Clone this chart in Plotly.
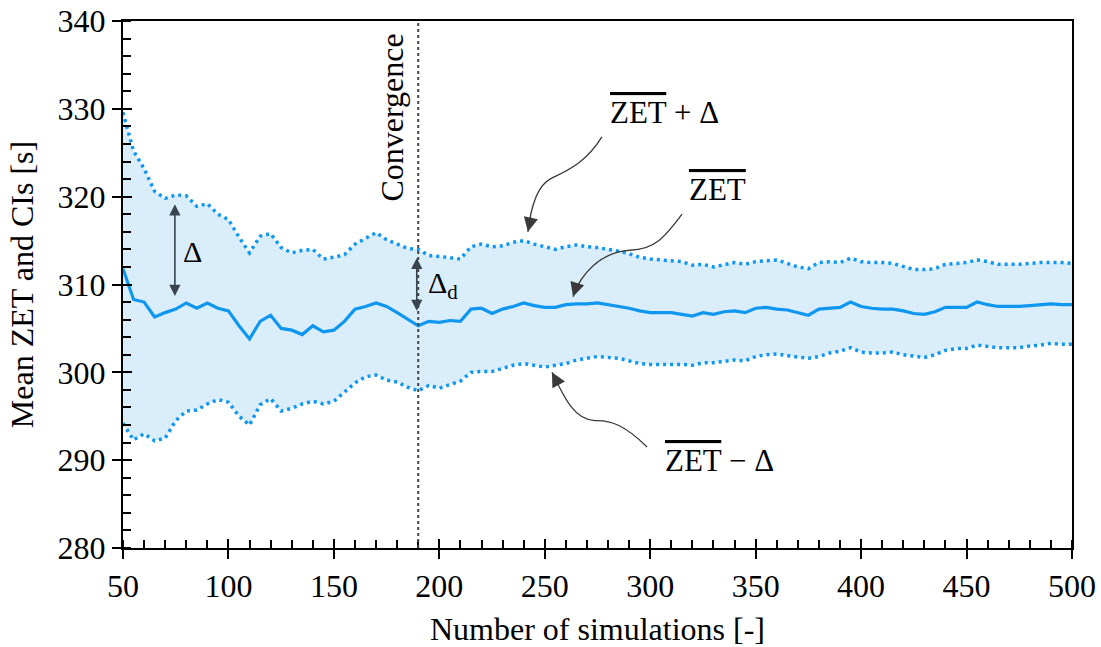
import plotly.graph_objects as go

n_sim = list(range(50, 505, 5))
mean_zet = [311.8, 308.3, 308.0, 306.3, 306.8, 307.2, 307.9, 307.3, 307.9, 307.3,
            307.0, 305.3, 303.8, 305.8, 306.5, 305.0, 304.8, 304.3, 305.3, 304.6,
            304.8, 305.8, 307.2, 307.5, 307.9, 307.5, 306.8, 306.0, 305.3, 305.8,
            305.7, 305.9, 305.8, 307.2, 307.3, 306.7, 307.2, 307.5, 307.9, 307.6,
            307.4, 307.4, 307.7, 307.8, 307.8, 307.9, 307.7, 307.5, 307.3, 307.0,
            306.8, 306.8, 306.8, 306.6, 306.4, 306.8, 306.6, 306.9, 307.0, 306.8,
            307.3, 307.4, 307.2, 307.1, 306.8, 306.5, 307.2, 307.3, 307.4, 308.0,
            307.5, 307.3, 307.2, 307.2, 307.0, 306.7, 306.6, 306.9, 307.4, 307.4,
            307.4, 308.0, 307.7, 307.5, 307.5, 307.5, 307.6, 307.7, 307.8, 307.7,
            307.7]
upper_ci = [329.6, 325.2, 323.2, 320.6, 319.8, 320.2, 320.1, 318.9, 319.2, 318.0,
            317.4, 315.4, 313.6, 315.5, 315.8, 314.2, 313.6, 313.9, 314.0, 312.9,
            313.1, 313.4, 314.6, 315.3, 315.9, 315.1, 314.6, 314.1, 314.0, 313.3,
            313.2, 313.0, 312.9, 314.3, 314.6, 314.3, 314.4, 314.8, 315.0, 314.6,
            314.3, 314.0, 314.3, 314.5, 314.3, 314.2, 314.0, 313.8, 313.5, 313.1,
            312.9, 312.8, 312.7, 312.6, 312.2, 312.3, 312.0, 312.3, 312.5, 312.3,
            312.6, 312.7, 312.8, 312.4, 312.0, 311.8, 312.5, 312.6, 312.5, 313.0,
            312.6, 312.5, 312.5, 312.4, 312.1, 311.7, 311.7, 311.8, 312.3, 312.4,
            312.5, 312.8, 312.6, 312.3, 312.3, 312.3, 312.4, 312.5, 312.5, 312.5,
            312.4]
lower_ci = [294.2, 292.3, 293.0, 292.2, 292.5, 294.5, 295.6, 295.7, 296.4, 296.9,
            296.6, 295.0, 294.0, 296.3, 297.0, 295.6, 295.9, 296.4, 296.7, 296.4,
            296.7, 297.7, 298.8, 299.5, 299.7, 299.1, 298.9, 298.3, 297.9, 298.5,
            298.2, 298.6, 299.0, 300.0, 300.1, 300.1, 300.5, 300.8, 301.0, 300.8,
            300.6, 300.8, 301.0, 301.4, 301.6, 301.8, 301.7, 301.6, 301.3, 301.0,
            300.9, 300.9, 300.9, 300.9, 300.8, 301.1, 301.1, 301.3, 301.4, 301.3,
            301.8, 302.0, 302.1, 301.9, 301.7, 301.6, 301.8, 302.2, 302.4, 302.8,
            302.3, 302.2, 302.2, 302.3, 302.0, 301.8, 301.7, 302.0, 302.5, 302.7,
            302.7, 303.1, 302.9, 302.8, 302.8, 302.8, 303.0, 303.1, 303.3, 303.2,
            303.2]

x_ticks = list(range(50, 550, 50))
y_ticks = list(range(280, 350, 10))
convergence_n = 190

BLUE = "#0f96ef"
FILL = "#daedfb"
DARK = "#37444e"
SERIF = "Liberation Serif"
FS = 32

fig = go.Figure()
fig.add_trace(go.Scatter(x=n_sim, y=lower_ci, mode="lines", line=dict(width=0),
                         hoverinfo="skip", showlegend=False))
fig.add_trace(go.Scatter(x=n_sim, y=upper_ci, mode="lines", line=dict(width=0),
                         fill="tonexty", fillcolor=FILL, hoverinfo="skip", showlegend=False))
fig.add_trace(go.Scatter(x=n_sim, y=upper_ci, mode="lines",
                         line=dict(color=BLUE, width=3.5, dash="3px,4px"), showlegend=False))
fig.add_trace(go.Scatter(x=n_sim, y=lower_ci, mode="lines",
                         line=dict(color=BLUE, width=3.5, dash="3px,4px"), showlegend=False))
fig.add_trace(go.Scatter(x=n_sim, y=mean_zet, mode="lines",
                         line=dict(color=BLUE, width=3.2), showlegend=False))

# convergence line
fig.add_shape(type="line", xref="x", yref="paper", x0=convergence_n, x1=convergence_n,
              y0=0, y1=1, line=dict(color="#444444", width=2, dash="dot"))

# curved leader lines
curve_paths = [
    "M 277.1,326.8 C 269.1,323.7 259.6,322.9 252.5,322.0 C 245.4,321.1 243.0,318.0 242.0,316.0",
    "M 315.1,318.0 C 307.0,315.4 302.3,314.0 290.4,313.9 C 276.2,313.7 266.7,311.1 263.4,308.6",
    "M 298.5,291.5 C 288.0,294.0 280.9,294.6 273.8,294.5 C 264.3,294.6 259.6,296.9 253.4,300.0",
]
for p in curve_paths:
    fig.add_shape(type="path", xref="x", yref="y", path=p,
                  line=dict(color="#3a3a3a", width=1.3))

arrow_tips = [((243.6, 317.8), (242.0, 316.0)),
              ((265.6, 310.3), (263.4, 308.6)),
              ((256.3, 298.7), (253.4, 300.0))]
for (tx, ty), (hx, hy) in arrow_tips:
    fig.add_annotation(x=hx, y=hy, ax=tx, ay=ty, xref="x", yref="y", axref="x", ayref="y",
                       text="", showarrow=True, arrowhead=2, arrowsize=2.2, arrowwidth=1.3,
                       arrowcolor="#3a3a3a")

# delta double arrows
for xa, y0, y1 in [(74.6, 308.7, 319.3), (189.3, 307.0, 313.2)]:
    fig.add_annotation(x=xa, y=y0, ax=xa, ay=y1, xref="x", yref="y", axref="x", ayref="y",
                       text="", showarrow=True, arrowhead=2, startarrowhead=2,
                       arrowside="end+start", arrowsize=1.4, startarrowsize=1.4,
                       arrowwidth=1.6, arrowcolor=DARK)

OL = '<span style="text-decoration:overline">ZET</span>'
texts = [
    dict(x=77.5, y=313.8, text="Δ", xanchor="left", size=30),
    dict(x=193.5, y=310.0, text="Δ<sub>d</sub>", xanchor="left", size=30),
    dict(x=307, y=329.6, text=OL + " + Δ", xanchor="center", size=31),
    dict(x=332, y=320.8, text=OL, xanchor="center", size=31),
    dict(x=333, y=290.0, text=OL + " − Δ", xanchor="center", size=31),
]
for t in texts:
    fig.add_annotation(x=t["x"], y=t["y"], xref="x", yref="y", text=t["text"],
                       showarrow=False, xanchor=t["xanchor"], yanchor="middle",
                       font=dict(family=SERIF, size=t["size"], color="black"))

fig.add_annotation(x=177.5, y=329.0, xref="x", yref="y", text="Convergence", textangle=-90,
                   showarrow=False, font=dict(family=SERIF, size=FS, color="black"))

axis_common = dict(showgrid=False, zeroline=False, showline=True, linecolor="black",
                   linewidth=2, mirror=True, ticks="outside", ticklen=9, tickwidth=1.5,
                   tickcolor="black", automargin=False,
                   tickfont=dict(family=SERIF, size=FS, color="black"))

fig.update_layout(
    width=1101, height=647,
    margin=dict(l=123, r=29, t=21, b=99),
    paper_bgcolor="white", plot_bgcolor="white",
    xaxis=dict(range=[50, 500], tickvals=x_ticks,
               minor=dict(dtick=10, tick0=50, ticks="inside", ticklen=8, tickwidth=1.5,
                          tickcolor="black"),
               title=dict(text="Number of simulations [-]", standoff=16,
                          font=dict(family=SERIF, size=FS, color="black")),
               **axis_common),
    yaxis=dict(range=[280, 340], tickvals=y_ticks,
               minor=dict(dtick=2, tick0=280, ticks="inside", ticklen=8, tickwidth=1.5,
                          tickcolor="black"),
               title=dict(text="Mean ZET and CIs [s]", standoff=14,
                          font=dict(family=SERIF, size=FS, color="black")),
               **axis_common),
    xaxis2=dict(overlaying="x", matches="x", range=[50, 500], tickvals=x_ticks,
                showticklabels=False, ticks="inside", ticklen=9, tickwidth=1.5,
                tickcolor="black", showgrid=False, zeroline=False, showline=False,
                automargin=False),
    yaxis2=dict(overlaying="y", matches="y", range=[280, 340], tickvals=y_ticks,
                showticklabels=False, ticks="inside", ticklen=9, tickwidth=1.5,
                tickcolor="black", showgrid=False, zeroline=False, showline=False,
                automargin=False),
)
fig.add_trace(go.Scatter(x=[None], y=[None], xaxis="x2", yaxis="y2", showlegend=False,
                         hoverinfo="skip"))

fig.write_html("out.html")
